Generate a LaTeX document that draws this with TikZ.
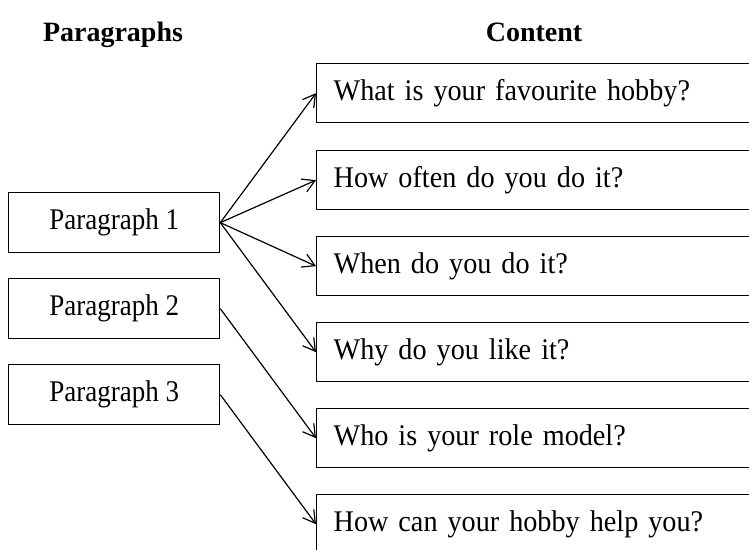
\documentclass[tikz,border=0pt]{standalone}
\usepackage{fontspec}
\setmainfont{Liberation Serif}
\newfontfamily\pfont{Liberation Serif}[FakeStretch=0.9]
\newfontfamily\cfont{Liberation Serif}[FakeStretch=0.94]
\usetikzlibrary{arrows.meta}
\tikzset{
  box/.style={draw, line width=1.3pt, inner sep=0pt},
  pbox/.style={box, font=\pfont\fontsize{30}{34}\selectfont, minimum width=211pt, minimum height=60pt, anchor=north west},
  cbox/.style={box, font=\cfont\fontsize{30}{34}\selectfont, minimum height=59pt, text width=424pt, inner xsep=17pt, align=left, anchor=north west},
  head/.style={font=\fontsize{28}{34}\selectfont\bfseries, anchor=base, inner sep=0pt},
  conn/.style={line width=1.2pt, -{Straight Barb[length=12pt,width=14pt,line width=1.2pt]}}
}
\begin{document}
\begin{tikzpicture}[x=1pt,y=-1pt]
\useasboundingbox (0,0) rectangle (749,549);
\clip (0,0) rectangle (749,549);
\node[head] (h1) at (113,41) {Paragraphs};
\node[head] (h2) at (534,41) {Content};
\node[pbox] (p1) at (8,192) {Paragraph 1};
\node[pbox] (p2) at (8,278) {Paragraph 2};
\node[pbox] (p3) at (8,364) {Paragraph 3};
\node[cbox] (c1) at (316,63) {What is your favourite hobby?};
\node[cbox] (c2) at (316,150) {How often do you do it?};
\node[cbox] (c3) at (316,236) {When do you do it?};
\node[cbox] (c4) at (316,322) {Why do you like it?};
\node[cbox] (c5) at (316,408) {Who is your role model?};
\node[cbox] (c6) at (316,494) {How can your hobby help you?};
\draw[conn] (p1.east) -- (c1.west);
\draw[conn] (p1.east) -- (c2.west);
\draw[conn] (p1.east) -- (c3.west);
\draw[conn] (p1.east) -- (c4.west);
\draw[conn] (p2.east) -- (c5.west);
\draw[conn] (p3.east) -- (c6.west);
\end{tikzpicture}
\end{document}
